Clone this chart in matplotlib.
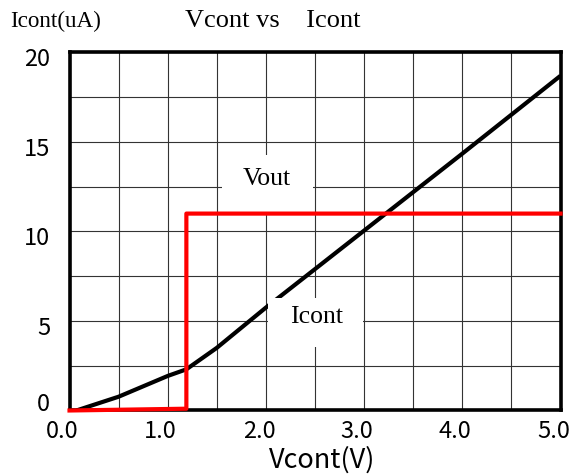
import matplotlib
matplotlib.use("Agg")
import matplotlib.pyplot as plt
import matplotlib.transforms as mtransforms
from matplotlib.patches import Rectangle

# Data
vcont = [0.07, 0.5, 1.0, 1.19, 1.5, 2.0, 2.5, 3.0, 4.0, 5.0]
icont = [0.0, 0.77, 1.93, 2.3, 3.5, 5.75, 7.9, 10.05, 14.35, 18.7]

vout_x = [0.0, 1.19, 1.19, 5.0]
vout_y = [0.0, 0.1, 11.0, 11.0]

xticks = [0, 1, 2, 3, 4, 5]
xtick_labels = ['0.0', '1.0', '2.0', '3.0', '4.0', '5.0']
yticks = [0, 5, 10, 15, 20]
ytick_labels = ['0', '5', '10', '15', '20']

serif = ['Liberation Serif', 'DejaVu Serif']
gothic = ['Noto Sans CJK JP', 'DejaVu Sans']

fig = plt.figure(figsize=(5.74, 4.75), dpi=100)
ax = fig.add_axes([0.1211, 0.1358, 0.8554, 0.7537])

ax.set_xlim(0, 5)
ax.set_ylim(0, 20)

# grid every 0.5 V / 2.5 uA
ax.set_xticks(xticks)
ax.set_xticklabels(xtick_labels, family=gothic, fontsize=17)
ax.set_xticks([i * 0.5 for i in range(11)], minor=True)
ax.set_yticks(yticks)
ax.set_yticklabels(ytick_labels, family=gothic, fontsize=17)
ax.set_yticks([i * 2.5 for i in range(9)], minor=True)
ax.grid(True, which='both', color='#333333', linewidth=0.8)
ax.tick_params(which='both', length=0)
ax.tick_params(axis='x', pad=7)
ax.tick_params(axis='y', pad=14)
ax.set_axisbelow(True)
for s in ax.spines.values():
    s.set_linewidth(2.6)

# nudge the tick labels like the original
for lab in ax.get_xticklabels():
    lab.set_transform(lab.get_transform() + mtransforms.ScaledTranslation(-7/100, 0, fig.dpi_scale_trans))
for lab, v in zip(ax.get_yticklabels(), yticks):
    dy = 8 if v == 0 else -5
    lab.set_transform(lab.get_transform() + mtransforms.ScaledTranslation(0, dy/100, fig.dpi_scale_trans))

ax.plot(vcont, icont, color='black', linewidth=3, zorder=3, solid_capstyle='butt')

# white label boxes
ax.add_patch(Rectangle((1.55, 11.03), 0.93, 3.24, facecolor='white', edgecolor='none', zorder=4))
ax.add_patch(Rectangle((2.02, 3.55), 0.97, 2.73, facecolor='white', edgecolor='none', zorder=4))
ax.text(2.01, 12.92, 'Vout', family=serif, fontsize=18.5, ha='center', va='center', zorder=5)
ax.text(2.52, 5.24, 'Icont', family=serif, fontsize=18.5, ha='center', va='center', zorder=5)

ax.plot(vout_x, vout_y, color='#ff0000', linewidth=3, zorder=6, clip_on=False)

ax.set_xlabel('Vcont(V)', family=gothic, fontsize=19.5, va='center_baseline')
ax.xaxis.set_label_coords(0.514, -0.13)

fig.text(56/574, 1 - 21/475, 'Icont(uA)', family=serif, fontsize=16.7, ha='center', va='center')
fig.text(273/574, 1 - 21/475, 'Vcont vs    Icont', family=serif, fontsize=19, ha='center', va='center')

fig.savefig('out.png', dpi=100)
